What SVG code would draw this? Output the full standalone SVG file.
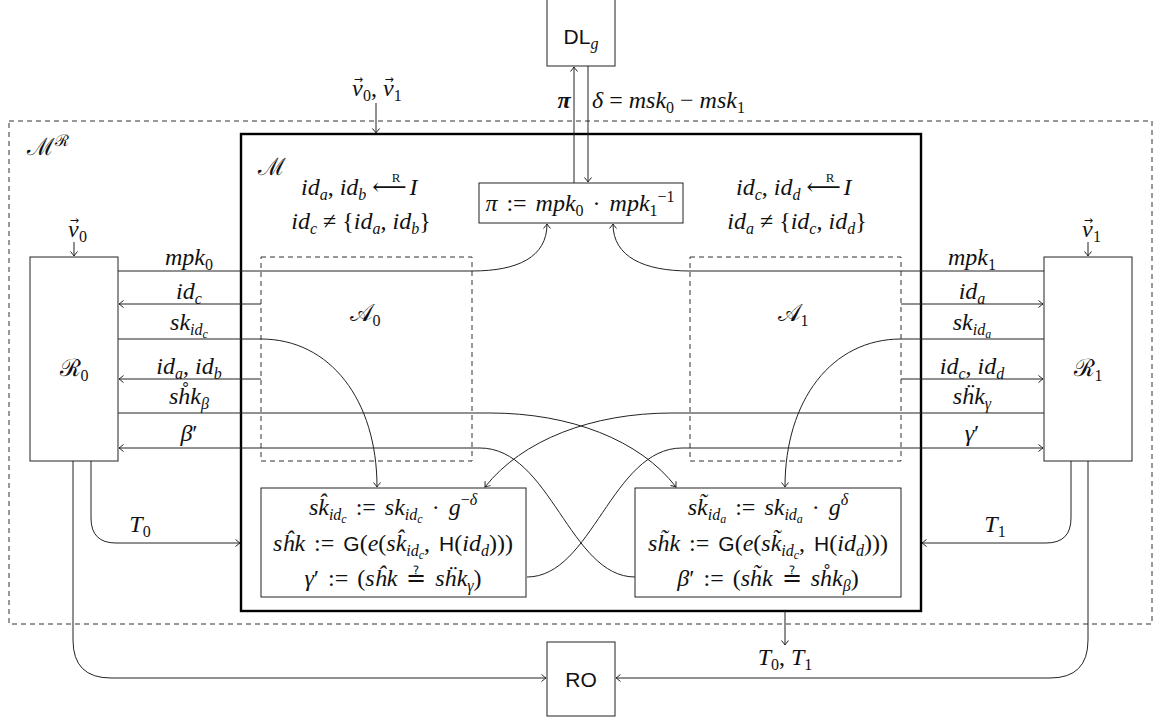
<svg xmlns="http://www.w3.org/2000/svg" width="1156" height="718" viewBox="0 0 1156 718">
<style>
.m{font-family:"Liberation Serif","DejaVu Serif",serif;font-style:italic;font-size:24px;fill:#111}
.u{font-style:normal}
.sf{font-family:"Liberation Sans","DejaVu Sans",sans-serif;font-style:normal;font-size:21px;fill:#111}
.s{font-size:16px}
.ss{font-size:12px}
.rs{font-size:13px;font-style:normal}
.ws{word-spacing:3px}
.vr{font-family:"DejaVu Sans",sans-serif;font-style:normal;font-size:11px}
.cal{font-family:"DejaVu Serif","Liberation Serif",serif;font-style:normal}
.ln{fill:none;stroke:#222;stroke-width:1}
.box{fill:#fff;stroke:#222;stroke-width:1}
.dash{fill:none;stroke:#333;stroke-width:1;stroke-dasharray:5 4}
.arr{marker-end:url(#ah)}
</style>
<defs>
<marker id="ah" markerUnits="userSpaceOnUse" markerWidth="12" markerHeight="12" viewBox="-6 -6 12 12" refX="0" refY="0" orient="auto">
<path d="M -4.5 -3.5 Q -1.2 -0.8 0 0 Q -1.2 0.8 -4.5 3.5" fill="none" stroke="#222" stroke-width="1"/>
</marker>
</defs>
<rect width="1156" height="718" fill="#fff"/>

<g id="outer-MR">
<rect class="dash" x="9" y="121" width="1143" height="503"/>
<text x="27" y="155" class="m"><tspan class="cal">ℳ</tspan><tspan class="s cal" baseline-shift="9">ℛ</tspan></text>
</g>

<g id="M">
<rect x="241" y="134" width="680" height="477" fill="none" stroke="#000" stroke-width="2.4"/>
<text x="258" y="175" class="m"><tspan class="cal">ℳ</tspan></text>
<text x="301" y="195" class="m">id<tspan class="s" baseline-shift="-5">a</tspan><tspan class="u">, </tspan>id<tspan class="s" baseline-shift="-5">b</tspan> <tspan class="u">⟵</tspan><tspan class="rs" dx="-15" dy="-13">R</tspan><tspan dx="9" dy="13">I</tspan></text>
<text x="361" y="229" text-anchor="middle" class="m">id<tspan class="s" baseline-shift="-5">c</tspan> <tspan class="u">≠ {</tspan>id<tspan class="s" baseline-shift="-5">a</tspan><tspan class="u">, </tspan>id<tspan class="s" baseline-shift="-5">b</tspan><tspan class="u">}</tspan></text>
<text x="736" y="195" class="m">id<tspan class="s" baseline-shift="-5">c</tspan><tspan class="u">, </tspan>id<tspan class="s" baseline-shift="-5">d</tspan> <tspan class="u">⟵</tspan><tspan class="rs" dx="-15" dy="-13">R</tspan><tspan dx="9" dy="13">I</tspan></text>
<text x="797" y="229" text-anchor="middle" class="m">id<tspan class="s" baseline-shift="-5">a</tspan> <tspan class="u">≠ {</tspan>id<tspan class="s" baseline-shift="-5">c</tspan><tspan class="u">, </tspan>id<tspan class="s" baseline-shift="-5">d</tspan><tspan class="u">}</tspan></text>
</g>

<g id="DLg">
<rect class="box" x="547" y="-1" width="68" height="67"/>
<text x="581" y="44" text-anchor="middle" class="sf">DL<tspan class="m s" baseline-shift="-5">g</tspan></text>
</g>

<g id="pi-box">
<rect class="box" x="479" y="183" width="204" height="40"/>
<text x="580" y="211" text-anchor="middle" class="m ws">π <tspan class="u">:=</tspan> mpk<tspan class="s u" baseline-shift="-5">0</tspan> <tspan class="u">·</tspan> mpk<tspan class="s u" baseline-shift="-5">1</tspan><tspan class="s u" baseline-shift="9">−1</tspan></text>
</g>

<g id="A0">
<rect class="dash" x="261" y="257" width="211" height="204"/>
<text x="365" y="321" text-anchor="middle" class="m"><tspan class="cal">𝒜</tspan><tspan class="s u" baseline-shift="-5">0</tspan></text>
</g>
<g id="A1">
<rect class="dash" x="690" y="257" width="211" height="204"/>
<text x="793" y="321" text-anchor="middle" class="m"><tspan class="cal">𝒜</tspan><tspan class="s u" baseline-shift="-5">1</tspan></text>
</g>

<g id="R0">
<rect class="box" x="30" y="257" width="88" height="204"/>
<text x="74" y="376" text-anchor="middle" class="m"><tspan class="cal">ℛ</tspan><tspan class="s u" baseline-shift="-5">0</tspan></text>
</g>
<g id="R1">
<rect class="box" x="1044" y="257" width="88" height="204"/>
<text x="1088" y="376" text-anchor="middle" class="m"><tspan class="cal">ℛ</tspan><tspan class="s u" baseline-shift="-5">1</tspan></text>
</g>

<g id="hat-box">
<rect class="box" x="261" y="488" width="265" height="109"/>
<text x="393" y="515" text-anchor="middle" class="m ws">sk̂<tspan class="s" baseline-shift="-5">id<tspan class="ss" baseline-shift="-3">c</tspan></tspan> <tspan class="u">:=</tspan> sk<tspan class="s" baseline-shift="-5">id<tspan class="ss" baseline-shift="-3">c</tspan></tspan> <tspan class="u">·</tspan> g<tspan class="s" baseline-shift="10"><tspan class="u">−</tspan>δ</tspan></text>
<text x="393" y="551" text-anchor="middle" class="m ws">sĥk <tspan class="u">:=</tspan> <tspan class="sf">G</tspan><tspan class="u">(</tspan>e<tspan class="u">(</tspan>sk̂<tspan class="s" baseline-shift="-5">id<tspan class="ss" baseline-shift="-3">c</tspan></tspan><tspan class="u">, </tspan><tspan class="sf">H</tspan><tspan class="u">(</tspan>id<tspan class="s" baseline-shift="-5">d</tspan><tspan class="u">)))</tspan></text>
<text x="393" y="586" text-anchor="middle" class="m ws">γ<tspan class="u">′ := (</tspan>sĥk <tspan class="u">≟</tspan> sḧk<tspan class="s" baseline-shift="-5">γ</tspan><tspan class="u">)</tspan></text>
</g>

<g id="tilde-box">
<rect class="box" x="635" y="488" width="266" height="109"/>
<text x="768" y="515" text-anchor="middle" class="m ws">sk̃<tspan class="s" baseline-shift="-5">id<tspan class="ss" baseline-shift="-3">a</tspan></tspan> <tspan class="u">:=</tspan> sk<tspan class="s" baseline-shift="-5">id<tspan class="ss" baseline-shift="-3">a</tspan></tspan> <tspan class="u">·</tspan> g<tspan class="s" baseline-shift="10">δ</tspan></text>
<text x="768" y="551" text-anchor="middle" class="m ws">sh̃k <tspan class="u">:=</tspan> <tspan class="sf">G</tspan><tspan class="u">(</tspan>e<tspan class="u">(</tspan>sk̃<tspan class="s" baseline-shift="-5">id<tspan class="ss" baseline-shift="-3">c</tspan></tspan><tspan class="u">, </tspan><tspan class="sf">H</tspan><tspan class="u">(</tspan>id<tspan class="s" baseline-shift="-5">d</tspan><tspan class="u">)))</tspan></text>
<text x="768" y="586" text-anchor="middle" class="m ws">β<tspan class="u">′ := (</tspan>sh̃k <tspan class="u">≟</tspan> sh̊k<tspan class="s" baseline-shift="-5">β</tspan><tspan class="u">)</tspan></text>
</g>

<g id="RO">
<rect class="box" x="547" y="642" width="68" height="74"/>
<text x="581" y="687" text-anchor="middle" class="sf">RO</text>
</g>

<g id="connectors">
<path class="ln arr" d="M 574 183 V 67"/>
<path class="ln arr" d="M 588 66 V 182"/>
<path class="ln arr" d="M 376 103 V 133"/>
<path class="ln arr" d="M 74 242 V 256"/>
<path class="ln arr" d="M 1088 242 V 256"/>
<path class="ln arr" d="M 118 271 H 472 C 518 271 547 257 547 224"/>
<path class="ln arr" d="M 1044 271 H 690 C 644 271 613 257 613 224"/>
<path class="ln arr" d="M 261 304 H 119"/>
<path class="ln arr" d="M 118 339 H 261 C 330 339 377 400 377 487"/>
<path class="ln arr" d="M 261 379 H 119"/>
<path class="ln arr" d="M 118 413 H 490 C 570 413 640 440 676 487"/>
<path class="ln arr" d="M 635 577 C 570 577 550 448 480 448 H 119"/>
<path class="ln arr" d="M 901 304 H 1043"/>
<path class="ln arr" d="M 1044 339 H 901 C 832 339 785 400 785 487"/>
<path class="ln arr" d="M 901 379 H 1043"/>
<path class="ln arr" d="M 1044 413 H 672 C 592 413 522 440 485 487"/>
<path class="ln arr" d="M 527 577 C 592 577 612 448 682 448 H 1043"/>
<path class="ln arr" d="M 91 461 V 518 Q 91 543 116 543 H 240"/>
<path class="ln arr" d="M 1071 461 V 518 Q 1071 543 1046 543 H 922"/>
<path class="ln arr" d="M 73 461 V 640 Q 73 678 111 678 H 546"/>
<path class="ln arr" d="M 1088 461 V 640 Q 1088 678 1050 678 H 616"/>
<path class="ln arr" d="M 785 611 V 645"/>
</g>

<g id="labels">
<text x="564" y="108" text-anchor="middle" class="m" font-weight="bold">π</text>
<text x="592" y="108" class="m">δ <tspan class="u">=</tspan> msk<tspan class="s u" baseline-shift="-5">0</tspan> <tspan class="u">−</tspan> msk<tspan class="s u" baseline-shift="-5">1</tspan></text>
<text x="352" y="96" class="m">v<tspan class="vr" dx="-9" dy="-13">→</tspan><tspan class="s u" dy="13" baseline-shift="-5">0</tspan><tspan class="u">, </tspan>v<tspan class="vr" dx="-9" dy="-13">→</tspan><tspan class="s u" dy="13" baseline-shift="-5">1</tspan></text>
<text x="68" y="237" class="m">v<tspan class="vr" dx="-9" dy="-13">→</tspan><tspan class="s u" dy="13" baseline-shift="-5">0</tspan></text>
<text x="1082" y="237" class="m">v<tspan class="vr" dx="-9" dy="-13">→</tspan><tspan class="s u" dy="13" baseline-shift="-5">1</tspan></text>
<text x="189" y="265" text-anchor="middle" class="m">mpk<tspan class="s u" baseline-shift="-5">0</tspan></text>
<text x="189" y="299" text-anchor="middle" class="m">id<tspan class="s" baseline-shift="-5">c</tspan></text>
<text x="189" y="330" text-anchor="middle" class="m">sk<tspan class="s" baseline-shift="-5">id<tspan class="ss" baseline-shift="-3">c</tspan></tspan></text>
<text x="189" y="374" text-anchor="middle" class="m">id<tspan class="s" baseline-shift="-5">a</tspan><tspan class="u">, </tspan>id<tspan class="s" baseline-shift="-5">b</tspan></text>
<text x="189" y="404" text-anchor="middle" class="m">sh̊k<tspan class="s" baseline-shift="-5">β</tspan></text>
<text x="189" y="441" text-anchor="middle" class="m">β<tspan class="u">′</tspan></text>
<text x="972" y="265" text-anchor="middle" class="m">mpk<tspan class="s u" baseline-shift="-5">1</tspan></text>
<text x="972" y="299" text-anchor="middle" class="m">id<tspan class="s" baseline-shift="-5">a</tspan></text>
<text x="972" y="330" text-anchor="middle" class="m">sk<tspan class="s" baseline-shift="-5">id<tspan class="ss" baseline-shift="-3">a</tspan></tspan></text>
<text x="972" y="374" text-anchor="middle" class="m">id<tspan class="s" baseline-shift="-5">c</tspan><tspan class="u">, </tspan>id<tspan class="s" baseline-shift="-5">d</tspan></text>
<text x="972" y="404" text-anchor="middle" class="m">sḧk<tspan class="s" baseline-shift="-5">γ</tspan></text>
<text x="972" y="441" text-anchor="middle" class="m">γ<tspan class="u">′</tspan></text>
<text x="140" y="532" text-anchor="middle" class="m">T<tspan class="s u" baseline-shift="-5">0</tspan></text>
<text x="995" y="532" text-anchor="middle" class="m">T<tspan class="s u" baseline-shift="-5">1</tspan></text>
<text x="785" y="665" text-anchor="middle" class="m">T<tspan class="s u" baseline-shift="-5">0</tspan><tspan class="u">, </tspan>T<tspan class="s u" baseline-shift="-5">1</tspan></text>
</g>
</svg>
